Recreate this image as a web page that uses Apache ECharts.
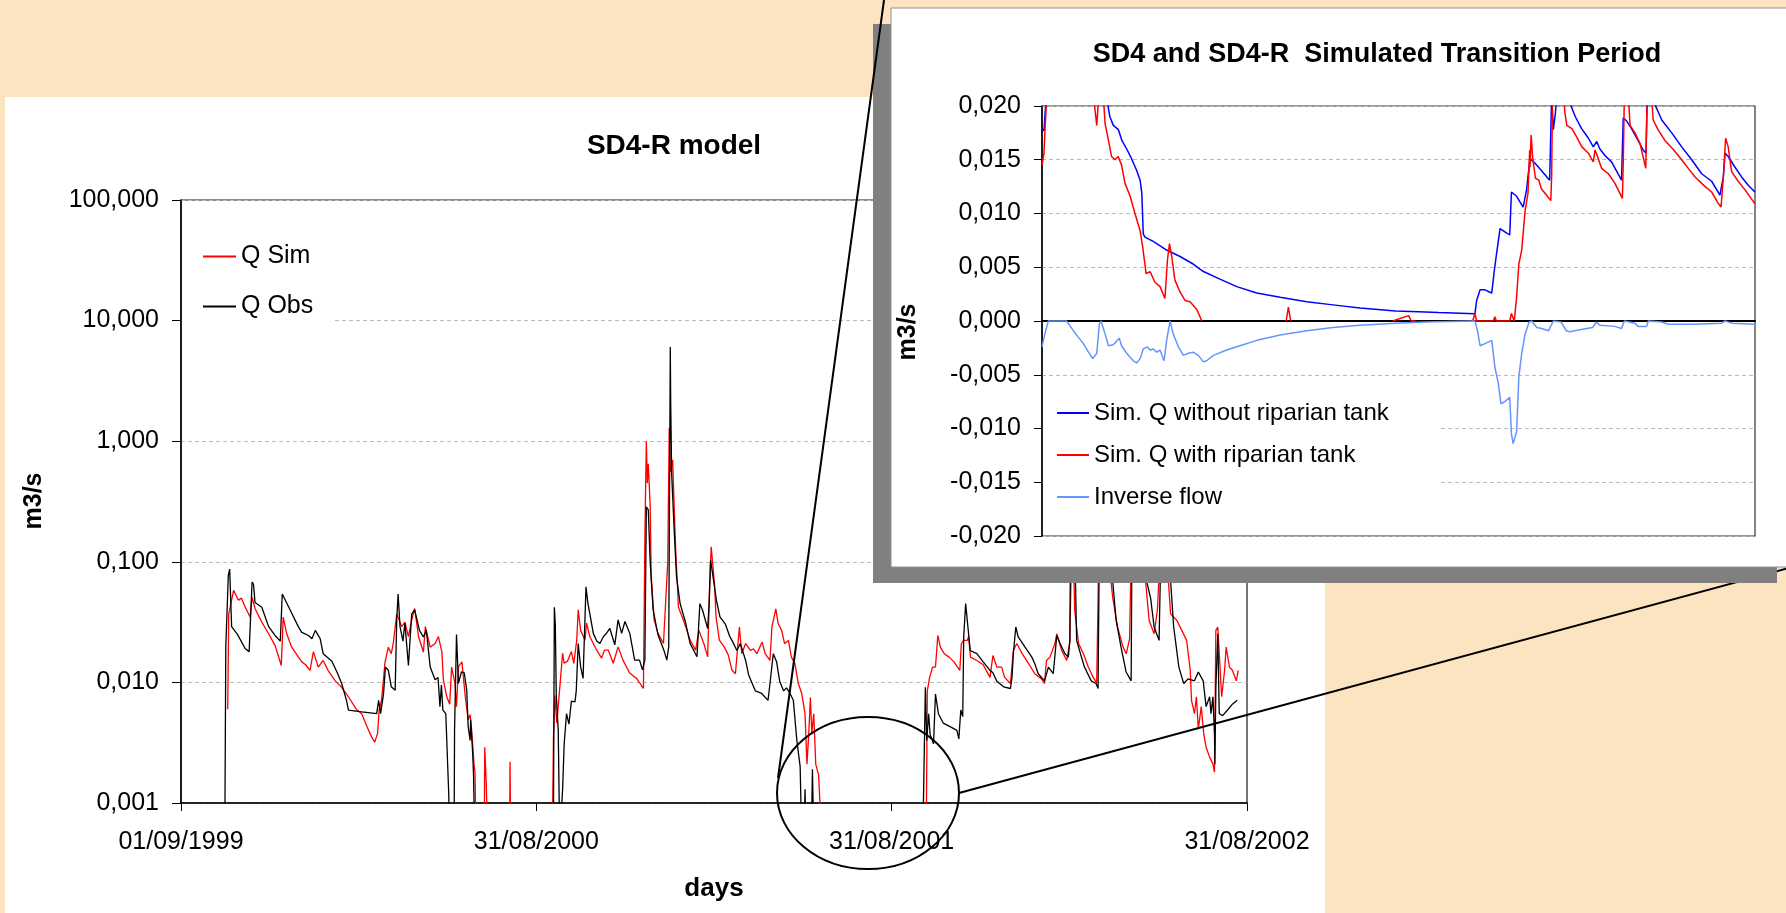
<!DOCTYPE html>
<html><head><meta charset="utf-8">
<script src="https://cdn.jsdelivr.net/npm/echarts@6/dist/echarts.min.js"></script>
<style>html,body{margin:0;padding:0;background:#FDE4C1;}#c{width:1786px;height:913px;}</style>
</head><body><div id="c"></div>
<script>
const FONT = 'Arial, "Liberation Sans", Helvetica, sans-serif';

// ---------- main chart (SD4-R model) : x = days since 01/09/1999 ----------
const xTickLabels = ['01/09/1999', '31/08/2000', '31/08/2001', '31/08/2002'];
const mainSeriesNames = ['Q Sim', 'Q Obs'];
// values below 0,001 (zero flow) are given as 0.0005 and fall under the axis
const qSim = [
[48,0.006],[49,0.037],[50,0.04],[54,0.058],[59,0.048],[62,0.05],[66,0.042],[71,0.0348],[73,0.051],[76,0.041],
[83,0.0316],[90,0.0253],[96.6,0.0203],[103,0.0138],[105,0.0348],[108.6,0.0253],[113.7,0.0196],[124,0.0148],[128,0.014],
[132.5,0.0126],[136,0.018],[141,0.0134],[146,0.0152],[151,0.0126],[158,0.0104],[165,0.0091],[172,0.0076],[180,0.006],
[185.6,0.0055],[191,0.0043],[196,0.0035],[199,0.0032],[202,0.0038],[203.5,0.0059],[206,0.0071],[209.6,0.0148],[213,0.0196],
[216,0.0173],[218,0.021],[221.6,0.037],[226.7,0.029],[230,0.0316],[233.6,0.024],[237,0.033],[240,0.041],[244,0.024],
[249,0.0178],[251,0.029],[256,0.0196],[261,0.021],[264.4,0.024],[268,0.0178],[269.5,0.0105],[273,0.0076],[276,0.0066],
[278,0.0134],[281.5,0.0097],[283,0.0063],[285,0.0135],[288.6,0.0148],[292,0.0076],[295,0.0049],[297,0.0054],[298.6,0.004],
[301,0.0021],[302,0.0018],[303,0.0005],[311.5,0.0005],[312,0.0029],[313.5,0.0015],[315,0.0005],[337.5,0.0005],[338,0.0022],
[338.6,0.0005],[381.5,0.0005],[382,0.0013],[382.6,0.0035],[384,0.0078],[385,0.0076],[386,0.0046],[388,0.0071],[392,0.0174],
[393.6,0.0144],[397,0.015],[401,0.018],[403.5,0.0144],[406.5,0.0224],[408,0.04],[410.5,0.027],[415,0.0224],[416.6,0.031],
[420,0.0239],[427,0.0185],[432,0.0159],[435,0.0185],[439,0.0185],[444,0.0144],[449,0.0197],[454,0.0153],[461,0.0119],
[468,0.0108],[475,0.0089],[476.6,0.183],[478,1.0],[479,0.45],[480,0.65],[482,0.286],[483,0.075],[486,0.033],[490,0.0255],
[495.6,0.021],[500,0.1],[501.5,1.29],[502.6,0.56],[505,0.7],[508,0.133],[511,0.042],[516.6,0.032],[523,0.0224],[528.6,0.0185],
[532,0.027],[537,0.021],[541,0.0163],[543,0.062],[544.6,0.133],[548,0.066],[549.6,0.035],[553,0.0224],[558,0.0197],
[562,0.017],[566,0.0126],[569.5,0.0118],[573.6,0.0288],[576,0.0173],[580,0.021],[585,0.0184],[588,0.019],[591.5,0.0173],
[597,0.0216],[600,0.0173],[605,0.0152],[607,0.0288],[611,0.0407],[613.5,0.0306],[617,0.027],[620,0.021],[624,0.0223],
[627,0.0162],[630.6,0.0143],[634,0.0099],[637.6,0.0081],[641,0.0055],[643,0.0021],[645,0.004],[646.5,0.0075],[648,0.0038],
[650,0.0055],[652,0.0021],[655,0.0017],[658,0.0005],[765.5,0.0005],[766.6,0.0085],[769,0.011],[772,0.0134],[775,0.0134],
[777.4,0.0245],[780,0.0196],[784,0.0173],[789,0.0162],[794,0.0148],[800,0.0126],[801.6,0.021],[804,0.0223],[807.7,0.0223],
[809,0.024],[811,0.0162],[817.5,0.0152],[824,0.014],[831,0.011],[834,0.0167],[838,0.0134],[843,0.0134],[846,0.011],
[852,0.0098],[853.6,0.01],[855,0.0184],[858.6,0.021],[864,0.0173],[870.7,0.0143],[877,0.0118],[884,0.0107],[887,0.0098],
[889,0.0152],[892.6,0.0162],[897.7,0.021],[899.6,0.0253],[904.7,0.0184],[909.8,0.0152],[913,0.0216],[915.6,0.3],[918,0.0395],
[922,0.021],[927,0.0173],[932,0.0134],[937,0.011],[940.6,0.0099],[943.6,0.3],[948,0.15],[955.6,0.066],[957,0.051],
[962,0.0288],[967.7,0.0196],[971,0.0173],[974.4,0.023],[977,0.3],[985,0.1],[991,0.066],[994.5,0.0326],[999.6,0.0253],
[1003,0.04],[1008,0.3],[1013,0.1],[1016.5,0.037],[1023,0.0326],[1028,0.027],[1033,0.0223],[1036.7,0.0126],[1038,0.0071],
[1041,0.0055],[1043,0.0076],[1045,0.0041],[1048,0.0063],[1050.6,0.0037],[1053,0.0029],[1056.6,0.0024],[1060,0.0021],
[1061.6,0.0018],[1063,0.027],[1065,0.0288],[1066.5,0.0173],[1069,0.0076],[1072,0.0126],[1073.6,0.0196],[1077,0.0134],
[1080,0.0126],[1084,0.0103],[1086,0.0126]
];
const qObs = [
[45,0.0005],[46,0.0196],[48.6,0.077],[50,0.087],[52,0.029],[58,0.025],[66,0.019],[70,0.018],[73,0.068],[74.5,0.065],
[76,0.046],[83,0.042],[90,0.029],[96.6,0.0245],[102,0.022],[104,0.054],[106,0.052],[112,0.04],[120.5,0.029],[124,0.026],
[131,0.0245],[134.5,0.023],[138,0.027],[143,0.023],[146,0.0173],[155,0.015],[161,0.0118],[165,0.0098],[170,0.0071],
[172,0.0059],[185.6,0.0057],[201,0.0055],[203,0.0071],[205,0.0055],[208,0.008],[210,0.0134],[213,0.0126],[216,0.0092],
[220,0.0086],[221.6,0.033],[223,0.054],[225,0.029],[228,0.022],[230,0.031],[233.6,0.0138],[237,0.037],[240,0.04],
[245,0.027],[249,0.0238],[252,0.027],[256,0.0134],[261,0.0105],[264,0.011],[266,0.0063],[267.5,0.0095],[269,0.0059],
[272,0.0055],[275,0.0012],[276,0.0005],[280.5,0.0005],[281,0.004],[283,0.025],[285,0.0098],[288,0.0122],[291,0.012],
[293.5,0.0086],[295,0.0043],[297,0.0033],[297.5,0.0049],[299.6,0.0026],[300.5,0.0017],[301.7,0.0005],[382.5,0.0005],
[383.5,0.042],[384.5,0.03],[385.5,0.0078],[387.5,0.004],[389,0.0005],[391,0.0005],[392,0.0013],[393.6,0.0031],[396,0.0055],
[398.5,0.0045],[401,0.007],[404.7,0.0069],[406,0.0085],[408,0.021],[410.5,0.0135],[413,0.0108],[416,0.062],[418,0.045],
[420,0.037],[423.5,0.0255],[427,0.022],[430.3,0.021],[434,0.024],[437,0.0255],[440.5,0.028],[445.6,0.0205],[449,0.033],
[452.6,0.0255],[456,0.032],[461,0.0255],[466,0.0153],[471,0.0153],[474,0.0127],[476.5,0.0153],[478,0.286],[480,0.27],
[482,0.097],[485,0.04],[490,0.0247],[496,0.0185],[499,0.0153],[501,0.0197],[502.6,6.05],[503,2.2],[504,0.54],[506.6,0.183],
[509,0.075],[512.7,0.045],[518,0.032],[523,0.021],[530,0.0163],[533,0.045],[535.6,0.04],[541,0.028],[542.5,0.045],
[544,0.103],[547,0.0705],[550,0.048],[553.6,0.035],[559,0.0306],[564,0.0237],[566,0.0223],[571,0.0184],[574.5,0.021],
[580,0.0152],[583,0.0116],[590,0.0085],[596.5,0.0081],[603,0.0071],[605,0.0098],[608.4,0.0173],[611.8,0.0148],[615,0.0102],
[619,0.0085],[622,0.009],[625.6,0.0081],[629,0.0071],[632.6,0.0033],[636,0.002],[637.6,0.0005],[640,0.0005],[641,0.0013],
[642,0.0005],[647.5,0.0005],[648.6,0.0019],[650,0.0005],[762,0.0005],[764.6,0.0091],[766,0.0033],[768,0.0055],[769.5,0.0037],
[773,0.0031],[775,0.008],[778,0.0055],[783,0.0046],[790,0.0043],[797,0.004],[799,0.0034],[801,0.0059],[803,0.0052],
[804,0.0238],[806,0.045],[809,0.0253],[810.7,0.0184],[817.5,0.0173],[824,0.0148],[831,0.0126],[834,0.012],[838,0.0102],
[845,0.0092],[852,0.0089],[853.6,0.011],[855,0.0173],[857.5,0.0288],[860,0.0238],[867,0.0196],[874,0.0162],[877,0.0143],
[880.5,0.0118],[887,0.0103],[891,0.0134],[896,0.0118],[899.6,0.0245],[903,0.021],[908,0.0173],[911.5,0.0162],[913,0.0223],
[914,0.25],[917,0.08],[918,0.15],[920,0.0223],[923,0.0184],[928,0.0134],[935,0.0103],[940,0.0098],[942,0.0089],[943.6,0.25],
[947,0.12],[952,0.09],[957,0.07],[960.5,0.033],[965.6,0.0196],[970.8,0.0122],[976,0.0103],[977,0.25],[982,0.12],[990,0.08],
[996,0.05],[999.6,0.0288],[1004.7,0.0223],[1007,0.2],[1012,0.12],[1016,0.08],[1019.7,0.0288],[1025,0.0134],[1030,0.0098],
[1034.5,0.0107],[1041,0.0103],[1045,0.0122],[1050,0.0103],[1053,0.0063],[1056.6,0.0076],[1058,0.0055],[1060,0.0076],
[1061.6,0.0037],[1062,0.0021],[1063,0.009],[1065,0.0253],[1066.5,0.0055],[1070,0.0053],[1075,0.0059],[1080,0.0066],
[1085,0.0071]
];

// ---------- inset (transition period) : x = day of the period ----------
const insetSeriesNames = ['Sim. Q without riparian tank', 'Sim. Q with riparian tank', 'Inverse flow'];
const qWithout = [
[0,0.0179],[0.7,0.0177],[1.0,0.019],[1.5,0.021],[10,0.03],[22.5,0.021],[23.8,0.019],[25,0.0182],[26.8,0.0178],[28,0.0168],
[29.7,0.016],[31.4,0.0151],[33.2,0.014],[34.4,0.0131],[35,0.0119],[35.5,0.0081],[36.1,0.0078],[39,0.0074],[43.7,0.0066],
[48.4,0.006],[53,0.0053],[56.6,0.0046],[62.4,0.0039],[68.3,0.0032],[75.3,0.0026],[83.5,0.0022],[92.8,0.0018],[102,0.0015],
[111.5,0.0012],[124,0.00093],[132,0.00087],[139,0.00078],[151.8,0.00068],[152.4,0.0019],[153.6,0.0029],[155.3,0.0029],
[157.7,0.0026],[158.6,0.0047],[159.4,0.0063],[160.6,0.0086],[162.3,0.0083],[164,0.008],[164.6,0.012],[166.4,0.0116],
[168.7,0.0106],[169.9,0.0122],[171.1,0.0151],[172.8,0.0147],[175.1,0.014],[178,0.0131],[178.4,0.013],[178.7,0.021],
[179.3,0.0178],[180,0.0193],[180.5,0.021],[182,0.025],[184,0.021],[187,0.019],[189.2,0.0179],[191.6,0.017],[193.3,0.0162],
[194.5,0.0167],[195.6,0.016],[197.4,0.0154],[199.7,0.0148],[203.2,0.0131],[203.8,0.0189],[205,0.0186],[206.7,0.0179],
[209,0.0168],[210.8,0.0159],[211.8,0.0156],[212.2,0.021],[213,0.025],[214.3,0.0205],[217.3,0.0187],[220.8,0.0175],
[224.3,0.0162],[227.8,0.015],[231.3,0.0137],[234.8,0.013],[237.7,0.0117],[238.9,0.0134],[239.5,0.0156],[240.6,0.0153],
[243,0.0143],[245.3,0.0134],[247.7,0.0126],[250,0.012]
];
const qWith = [
[0,0.0145],[0.7,0.0156],[1.05,0.0178],[1.7,0.021],[10,0.03],[18,0.021],[19.2,0.0182],[19.8,0.0205],[21.5,0.021],[22.1,0.0184],
[23.3,0.0168],[24.4,0.0153],[25.6,0.015],[26.7,0.0153],[27.9,0.0145],[29.1,0.0128],[30.9,0.0116],[32.6,0.01],[34.4,0.0084],
[35.3,0.0069],[36.5,0.0044],[37.9,0.0046],[39.6,0.0036],[41.4,0.0032],[43.1,0.0021],[44,0.0057],[44.7,0.0072],[45.5,0.006],
[46.6,0.0038],[48.4,0.0027],[50.2,0.0019],[51.9,0.0018],[54.2,0.0011],[55.4,0.0004],[56,0],[57,'-'],[85.6,0],[86.4,0.0013],
[87.2,0],[88,'-'],[123,0],[128.5,0.0005],[129.5,0],[131,0],[132,'-'],[151,0],[151.8,0.0007],[152.4,0],[158.3,0],[158.8,0.0004],
[159.3,0],[164,0],[164.6,0.0007],[165.6,0],[166.4,0.0022],[167.2,0.0053],[168.2,0.0066],[169.4,0.0103],[170.4,0.0119],
[171,0.0159],[171.1,0.0143],[171.5,0.0173],[172,0.0153],[173,0.0133],[174.2,0.0131],[175.1,0.0123],[176.9,0.0117],
[178.4,0.0112],[178.7,0.0135],[179,0.021],[181,0.025],[182.8,0.021],[183.4,0.0193],[184,0.0182],[185.8,0.0179],[187.5,0.0171],
[189.3,0.0162],[191.6,0.0156],[193.3,0.0148],[193.9,0.0159],[194.8,0.0153],[196.2,0.0142],[198.6,0.0137],[200.9,0.0128],
[203.5,0.0114],[203.8,0.0147],[204.2,0.021],[205,0.025],[205.6,0.021],[206.2,0.0182],[207.9,0.0175],[209.7,0.0165],
[211.7,0.0142],[212.2,0.021],[213,0.025],[213.7,0.021],[214.3,0.0187],[216,0.0178],[218.4,0.0168],[221.2,0.016],[224.3,0.015],
[226.6,0.0142],[229,0.0134],[232.5,0.0125],[234.8,0.012],[237.2,0.0109],[238.1,0.0106],[238.9,0.0134],[239.7,0.017],
[240.6,0.0162],[241.8,0.0139],[244.1,0.013],[246.5,0.0122],[250,0.0109]
];
const qInverse = [
[0,-0.0024],[1,-0.0012],[2.2,0],[8.6,0],[11,-0.0009],[12.7,-0.0015],[14.5,-0.0021],[16.3,-0.0029],[17.8,-0.0035],[19.2,-0.003],
[20.1,-0.0003],[20.7,0],[22.1,-0.0012],[23.3,-0.0023],[25,-0.0022],[27.1,-0.0016],[27.9,-0.0023],[29.7,-0.003],[32,-0.0037],
[33.2,-0.0039],[34.4,-0.0035],[35.5,-0.0026],[36.9,-0.0024],[37.9,-0.0027],[39,-0.0026],[40.2,-0.0029],[41.4,-0.0027],
[42.8,-0.0037],[43.7,-0.0018],[44.9,0],[46,-0.0012],[47.8,-0.0024],[49.6,-0.0032],[51.3,-0.003],[53,-0.0029],[54.8,-0.0032],
[56.6,-0.0038],[57.7,-0.0037],[60.1,-0.0032],[64.7,-0.0027],[69.4,-0.0023],[75.3,-0.0018],[83.5,-0.0013],[92.8,-0.0009],
[102,-0.0006],[111.5,-0.0004],[124,-0.0002],[134.3,-0.0001],[151.8,0],[152.7,-0.0009],[153.6,-0.0023],[155.3,-0.0021],
[157.7,-0.0018],[158.8,-0.0043],[160,-0.0058],[160.9,-0.0077],[162.3,-0.0075],[164,-0.0071],[164.6,-0.0105],[165.2,-0.0114],
[166.4,-0.0103],[167.2,-0.0052],[168.2,-0.003],[169.4,-0.0012],[170.8,-0.0001],[171.7,0],[173.5,-0.0006],[175.2,-0.0007],
[177.6,-0.0009],[179.3,0],[182,-0.0001],[183.8,-0.0009],[185,-0.001],[189,-0.0008],[193.1,-0.0006],[194.3,-0.0001],
[195.6,-0.0004],[200.8,-0.0005],[203.2,-0.0007],[204.2,0],[207.9,-0.0002],[209,-0.0005],[212,-0.0005],[212.6,0],
[217.3,-0.0001],[219.6,-0.0003],[229,-0.0003],[238.3,-0.0002],[239.5,0],[241.9,-0.0002],[250,-0.0003]
];

function fmt3(v){ if (Math.abs(v) < 1e-9) v = 0; return v.toFixed(3).replace('.', ','); }

const chart = echarts.init(document.getElementById('c'), null, {renderer:'canvas'});
const txt = (size, bold) => ({fontSize:size, fontWeight: bold ? 'bold' : 'normal', fontFamily:FONT, color:'#000'});

chart.setOption({
  animation:false,
  backgroundColor:'#FDE4C1',
  title:[
    {text:'SD4-R model', left:674, top:132, textAlign:'center', padding:0, textStyle:txt(28,true)},
    {text:'SD4 and SD4-R  Simulated Transition Period', left:1377, top:41, textAlign:'center', padding:0,
     textStyle:txt(27,true), zlevel:1, z:8}
  ],
  legend:[
    {data:mainSeriesNames, orient:'vertical', left:182, top:232, padding:[12,20,12,21], itemGap:25,
     itemWidth:33, itemHeight:2, icon:'rect', backgroundColor:'#fff', selectedMode:false,
     textStyle:Object.assign(txt(25,false),{lineHeight:25}), z:5},
    {data:insetSeriesNames, orient:'vertical', left:1043, top:380, padding:[21,52,25,14], itemGap:18,
     itemWidth:32, itemHeight:2, icon:'rect', backgroundColor:'#fff', selectedMode:false,
     textStyle:Object.assign(txt(24,false),{lineHeight:24}), zlevel:1, z:7}
  ],
  grid:[
    {left:181, top:200, width:1066, height:603, show:true, borderColor:'#1a1a1a', borderWidth:1.2, z:1},
    {left:1042, top:106, width:713, height:430, show:true, borderColor:'#333', borderWidth:1.2, zlevel:1, z:2}
  ],
  xAxis:[
    {type:'value', gridIndex:0, min:0, max:1095, interval:365,
     axisLine:{onZero:false, lineStyle:{color:'#000', width:1.5}},
     axisTick:{show:true, length:8, lineStyle:{color:'#000', width:1}},
     axisLabel:{margin:27, formatter:(v)=>xTickLabels[Math.round(v/365)] || '', ...txt(25,false)},
     splitLine:{show:false}, z:2},
    {type:'value', gridIndex:1, min:0, max:250,
     axisLine:{onZero:true, lineStyle:{color:'#000', width:2}},
     axisTick:{show:false}, axisLabel:{show:false}, splitLine:{show:false}, zlevel:1, z:3}
  ],
  yAxis:[
    {type:'log', logBase:10, gridIndex:0, min:0.001, max:100,
     axisLine:{show:true, onZero:false, lineStyle:{color:'#000', width:1.5}},
     axisTick:{show:true, length:9, lineStyle:{color:'#000', width:1}},
     axisLabel:{margin:22, formatter:fmt3, ...txt(25,false)},
     splitLine:{show:true, lineStyle:{color:'#BBBBBB', type:[4,3], width:1}},
     minorTick:{show:false}, z:2},
    {type:'value', gridIndex:1, min:-0.02, max:0.02, interval:0.005,
     axisLine:{show:true, onZero:false, lineStyle:{color:'#000', width:1.5}},
     axisTick:{show:true, length:8, lineStyle:{color:'#000', width:1}},
     axisLabel:{margin:21, formatter:fmt3, ...txt(25,false)},
     splitLine:{show:true, lineStyle:{color:'#BBBBBB', type:[4,3], width:1}}, zlevel:1, z:3}
  ],
  series:[
    {name:'Q Sim', type:'line', xAxisIndex:0, yAxisIndex:0, data:qSim, symbol:'none', color:'#FF0000',
     lineStyle:{color:'#FF0000', width:1.3}, z:3, silent:true},
    {name:'Q Obs', type:'line', xAxisIndex:0, yAxisIndex:0, data:qObs, symbol:'none', color:'#000000',
     lineStyle:{color:'#000000', width:1.3}, z:3, silent:true},
    {name:insetSeriesNames[0], type:'line', xAxisIndex:1, yAxisIndex:1, data:qWithout, symbol:'none', color:'#0000FF',
     lineStyle:{color:'#0000FF', width:1.5}, zlevel:1, z:4, silent:true},
    {name:insetSeriesNames[1], type:'line', xAxisIndex:1, yAxisIndex:1, data:qWith, symbol:'none', color:'#FF0000',
     lineStyle:{color:'#FF0000', width:1.5}, zlevel:1, z:4, silent:true},
    {name:insetSeriesNames[2], type:'line', xAxisIndex:1, yAxisIndex:1, data:qInverse, symbol:'none', color:'#6495FF',
     lineStyle:{color:'#6495FF', width:1.5}, zlevel:1, z:4, silent:true}
  ],
  graphic:{elements:[
    {type:'rect', silent:true, zlevel:0, z:-10, shape:{x:5, y:97, width:1320, height:816}, style:{fill:'#FFFFFF'}},
    {type:'text', silent:true, zlevel:0, z:10, x:34, y:501, rotation:Math.PI/2,
     style:{text:'m3/s', fontSize:25, fontWeight:'bold', fontFamily:FONT, fill:'#000', align:'center', verticalAlign:'middle'}},
    {type:'text', silent:true, zlevel:0, z:10, x:714, y:889,
     style:{text:'days', fontSize:26, fontWeight:'bold', fontFamily:FONT, fill:'#000', align:'center', verticalAlign:'middle'}},
    {type:'ellipse', silent:true, zlevel:0, z:50, shape:{cx:868, cy:793, rx:91, ry:76},
     style:{fill:'rgba(0,0,0,0)', stroke:'#000', lineWidth:2}},
    {type:'line', silent:true, zlevel:0, z:50, shape:{x1:959, y1:793, x2:1800, y2:565}, style:{stroke:'#000', lineWidth:2}},
    {type:'rect', silent:true, zlevel:1, z:0, shape:{x:873, y:24, width:904, height:559}, style:{fill:'#808080'}},
    {type:'rect', silent:true, zlevel:1, z:1, shape:{x:891, y:8, width:910, height:559}, style:{fill:'#FFFFFF', stroke:'#909090', lineWidth:1}},
    {type:'text', silent:true, zlevel:1, z:10, x:908, y:332, rotation:Math.PI/2,
     style:{text:'m3/s', fontSize:25, fontWeight:'bold', fontFamily:FONT, fill:'#000', align:'center', verticalAlign:'middle'}},
    {type:'line', silent:true, zlevel:2, z:1, shape:{x1:778, y1:778, x2:884, y2:0}, style:{stroke:'#000', lineWidth:2}}
  ]}
});
</script></body></html>
